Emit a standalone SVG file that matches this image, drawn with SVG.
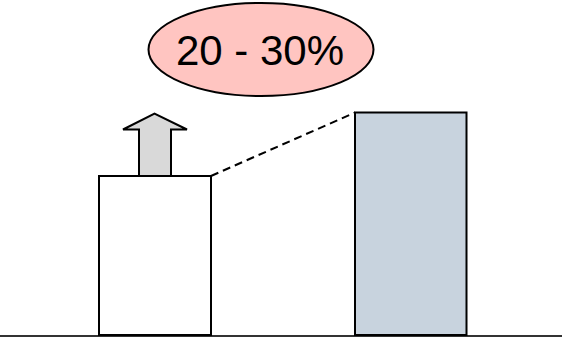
<svg xmlns="http://www.w3.org/2000/svg" width="562" height="338" viewBox="0 0 562 338">
<style>
.box{stroke:#000;stroke-width:2}
.lbl{font-family:"Liberation Sans",Arial,sans-serif;font-size:42px;fill:#000;text-anchor:middle}
</style>
<rect width="562" height="338" fill="#fff"/>
<g id="baseline"><line x1="0" y1="336" x2="562" y2="336" stroke="#333" stroke-width="2"/></g>
<g id="bar-left"><rect class="box" x="99" y="176" width="112" height="159" fill="#fff"/></g>
<g id="bar-right"><rect class="box" x="355" y="112.5" width="111.5" height="222.5" fill="#c8d3de"/></g>
<g id="arrow-up"><polygon class="box" points="139,176 139,129.5 123,129.5 154.5,113.5 187,129.5 171,129.5 171,176" fill="#d9d9d9" stroke-linejoin="miter"/></g>
<g id="connectors"><line x1="211" y1="176" x2="355" y2="112.5" stroke="#000" stroke-width="2" stroke-dasharray="8,5"/></g>
<g id="label"><ellipse class="box" cx="261" cy="49.5" rx="112.5" ry="46.5" fill="#ffc5c1"/><text class="lbl" x="260" y="65">20 - 30%</text></g>
</svg>
